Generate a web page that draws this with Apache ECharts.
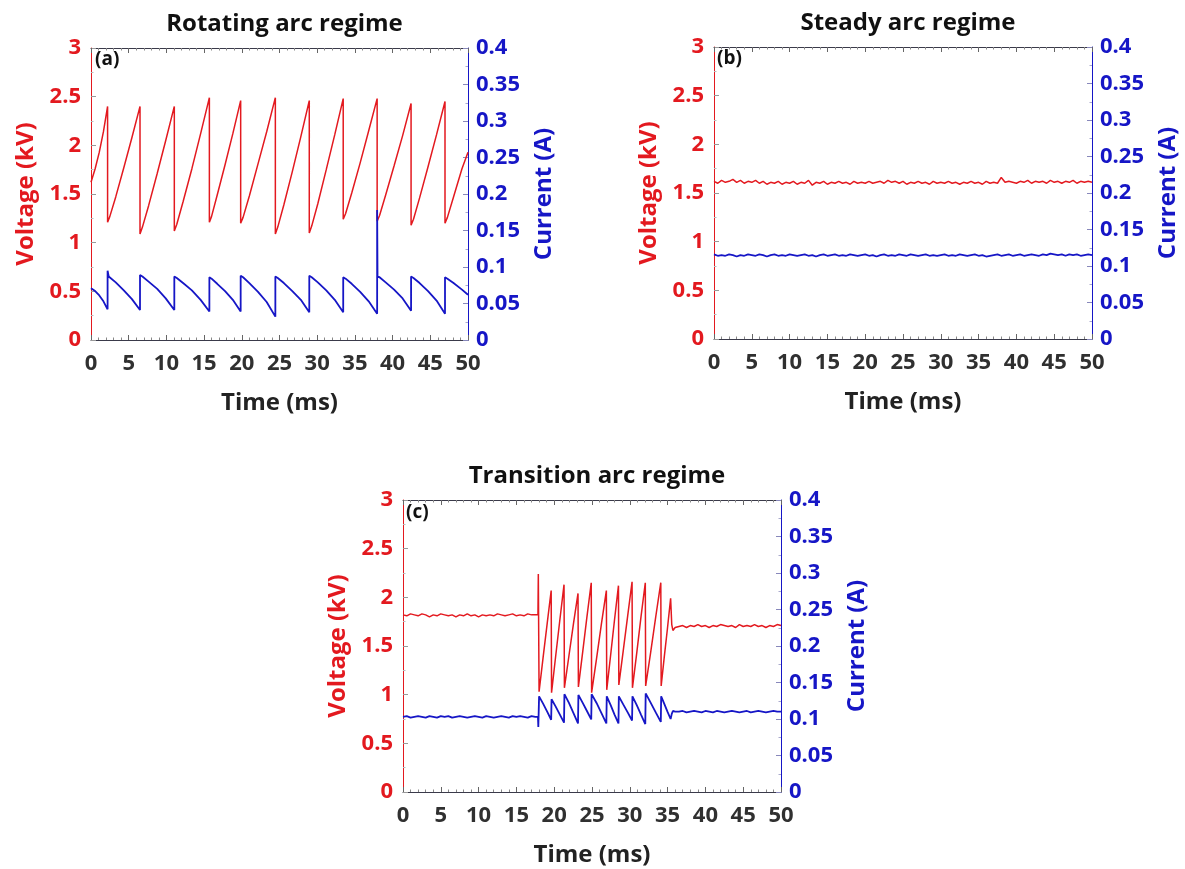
<!DOCTYPE html>
<html>
<head>
<meta charset="utf-8">
<script src="https://cdn.jsdelivr.net/npm/echarts@6/dist/echarts.min.js"></script>
<style>
  html, body { margin: 0; padding: 0; background: #fff; }
  #chart { width: 1185px; height: 869px; }
</style>
</head>
<body>
<div id="chart"></div>
<script>
// ---- Panel (a): rotating arc, sawtooth voltage and current ----
const aVoltT = [0,0.55,1.1,1.65,2.2, 2.2,2.5,3.28,4.35,5.43,6.5, 6.5,6.82,7.64,8.78,9.91,11.05,
  11.05,11.38,12.21,13.38,14.54,15.7, 15.7,15.99,16.74,17.78,18.81,19.85, 19.85,20.17,21.0,22.15,23.3,24.45,
  24.45,24.77,25.58,26.7,27.83,28.95, 28.95,29.27,30.08,31.2,32.33,33.45, 33.45,33.77,34.58,35.7,36.83,37.95,
  37.95,38.27,39.08,40.2,41.33,42.45, 42.45,42.77,43.58,44.7,45.83,46.95, 46.95,47.27,48.08,49.2,50];
const aVoltV = [1.62,1.76,1.93,2.14,2.40, 1.21,1.27,1.47,1.77,2.08,2.40, 1.09,1.16,1.38,1.71,2.05,2.40,
  1.12,1.19,1.42,1.76,2.12,2.49, 1.21,1.27,1.49,1.80,2.12,2.46, 1.20,1.26,1.48,1.81,2.14,2.49,
  1.09,1.16,1.39,1.73,2.09,2.46, 1.10,1.17,1.40,1.75,2.11,2.48, 1.24,1.30,1.51,1.82,2.15,2.48,
  1.22,1.28,1.49,1.79,2.10,2.43, 1.18,1.24,1.46,1.78,2.11,2.45, 1.20,1.26,1.47,1.76,1.93];
const aCurT = [0,0.55,1.1,1.65,2.2, 2.2,2.35,3.28,4.35,5.43,6.5, 6.5,6.82,7.64,8.78,9.91,11.05,
  11.05,11.38,12.21,13.38,14.54,15.7, 15.7,15.99,16.74,17.78,18.81,19.85, 19.85,20.17,21.0,22.15,23.3,24.45,
  24.45,24.77,25.58,26.7,27.83,28.95, 28.95,29.27,30.08,31.2,32.33,33.45, 33.45,33.77,34.58,35.7,36.83,37.95,
  37.95,38.0,38.27,39.08,40.2,41.33,42.45, 42.45,42.77,43.58,44.7,45.83,46.95, 46.95,47.27,48.08,49.2,50];
const aCurI = [0.071,0.067,0.061,0.053,0.042, 0.095,0.087,0.079,0.068,0.056,0.041, 0.089,0.087,0.080,0.070,0.057,0.041,
  0.087,0.085,0.078,0.068,0.055,0.039, 0.086,0.084,0.077,0.067,0.055,0.039, 0.088,0.086,0.078,0.066,0.052,0.032,
  0.087,0.085,0.078,0.067,0.055,0.038, 0.088,0.086,0.079,0.068,0.055,0.038, 0.086,0.084,0.077,0.066,0.053,0.036,
  0.178,0.087,0.086,0.079,0.069,0.057,0.040, 0.087,0.085,0.078,0.067,0.054,0.036, 0.086,0.084,0.078,0.069,0.062];

// ---- Panel (b): steady arc, samples every 0.5 ms from 0 to 50 ms ----
const SAMPLE_MS = 0.5;
const bVolt = [1.62,1.60,1.63,1.61,1.62,1.64,1.61,1.63,1.60,1.62,
  1.61,1.63,1.60,1.62,1.59,1.61,1.60,1.62,1.59,1.61,
  1.60,1.62,1.59,1.61,1.60,1.63,1.58,1.61,1.60,1.62,
  1.59,1.61,1.60,1.62,1.60,1.61,1.59,1.62,1.60,1.61,
  1.60,1.62,1.60,1.61,1.62,1.60,1.63,1.61,1.62,1.60,
  1.62,1.59,1.61,1.60,1.62,1.60,1.61,1.59,1.62,1.60,
  1.61,1.60,1.62,1.60,1.61,1.59,1.61,1.60,1.62,1.60,
  1.61,1.59,1.62,1.60,1.61,1.60,1.66,1.61,1.62,1.61,
  1.60,1.62,1.61,1.63,1.60,1.62,1.61,1.62,1.60,1.63,
  1.61,1.62,1.60,1.62,1.61,1.63,1.60,1.62,1.61,1.62,1.61];
const bCur = [0.116,0.114,0.115,0.114,0.116,0.115,0.113,0.115,0.114,0.116,
  0.115,0.114,0.116,0.115,0.113,0.115,0.116,0.114,0.115,0.114,
  0.116,0.115,0.114,0.115,0.116,0.114,0.115,0.113,0.115,0.116,
  0.114,0.115,0.116,0.114,0.115,0.114,0.116,0.115,0.114,0.115,
  0.116,0.114,0.115,0.113,0.115,0.116,0.114,0.115,0.114,0.116,
  0.115,0.114,0.116,0.115,0.114,0.115,0.116,0.114,0.115,0.114,
  0.115,0.116,0.114,0.115,0.114,0.116,0.115,0.114,0.115,0.116,
  0.114,0.115,0.113,0.114,0.115,0.116,0.114,0.115,0.116,0.114,
  0.115,0.116,0.114,0.115,0.116,0.115,0.114,0.116,0.115,0.117,
  0.116,0.115,0.116,0.114,0.116,0.115,0.116,0.114,0.115,0.116,0.115];

// ---- Panel (c): transition arc, steady -> oscillating -> steady ----
const cPreStart = 0;     // 0 .. 17.5 ms, every 0.5 ms
const cVoltPre = [1.82,1.81,1.83,1.82,1.81,1.83,1.82,1.80,1.82,1.81,
  1.83,1.82,1.81,1.82,1.80,1.82,1.81,1.83,1.81,1.82,
  1.80,1.82,1.81,1.82,1.81,1.83,1.82,1.81,1.82,1.83,
  1.81,1.82,1.81,1.83,1.82,1.82];
const cCurPre = [0.103,0.104,0.102,0.103,0.104,0.103,0.102,0.104,0.103,0.102,
  0.104,0.103,0.104,0.102,0.103,0.104,0.103,0.102,0.103,0.104,
  0.103,0.102,0.104,0.103,0.102,0.103,0.104,0.103,0.102,0.104,
  0.103,0.104,0.103,0.102,0.104,0.103];
const cActT = [17.85,17.9, 18.0,18.53,19.07,19.6, 19.65,20.2,20.75,21.3, 21.35,21.95,22.55,23.15,
  23.2,23.77,24.33,24.9, 24.95,25.6,26.25,26.9, 26.95,27.47,27.98,28.5, 28.55,29.13,29.72,30.3,
  30.35,30.92,31.48,32.05, 32.1,32.77,33.43,34.1, 34.15,34.55,34.98,35.4, 35.55,35.7,36.0];
const cActVolt = [1.82,2.24, 1.03,1.38,1.73,2.07, 1.02,1.40,1.77,2.13, 1.07,1.40,1.73,2.04,
  1.08,1.44,1.80,2.15, 1.02,1.37,1.73,2.07, 1.05,1.41,1.77,2.12, 1.10,1.45,1.81,2.16,
  1.07,1.43,1.80,2.15, 1.09,1.44,1.80,2.15, 1.09,1.38,1.68,1.99, 1.72,1.66,1.69];
const cActCur = [0.103,0.089, 0.131,0.121,0.110,0.099, 0.127,0.117,0.106,0.095, 0.134,0.122,0.108,0.094,
  0.133,0.122,0.111,0.0995, 0.134,0.122,0.108,0.094, 0.131,0.119,0.106,0.094, 0.131,0.120,0.109,0.098,
  0.131,0.119,0.106,0.093, 0.135,0.122,0.109,0.096, 0.131,0.121,0.110,0.100, 0.107,0.111,0.110];
const cPostStart = 36.5; // 36.5 .. 50 ms, every 0.5 ms
const cVoltPost = [1.70,1.71,1.69,1.71,1.70,1.72,1.70,1.71,1.69,1.71,
  1.70,1.72,1.71,1.70,1.71,1.69,1.72,1.70,1.71,1.70,
  1.72,1.70,1.71,1.69,1.71,1.70,1.72,1.71];
const cCurPost = [0.110,0.111,0.109,0.110,0.111,0.110,0.109,0.111,0.110,0.109,
  0.111,0.110,0.109,0.110,0.111,0.110,0.109,0.110,0.111,0.109,
  0.110,0.111,0.110,0.109,0.110,0.111,0.110,0.110];

// ---- Axis ticks and labels ----
const timeTicks = { min: 0, max: 50, interval: 5 };
const voltTicks = { min: 0, max: 3, interval: 0.5 };
const curTicks  = { min: 0, max: 0.4, interval: 0.05 };
const titles = ['Rotating arc regime', 'Steady arc regime', 'Transition arc regime'];
const tags = ['(a)', '(b)', '(c)'];

// ---- helpers ----
const zip = (t, v) => t.map((x, i) => [x, v[i]]);
const sampled = (values, start) => values.map((v, i) => [start + i * SAMPLE_MS, v]);

const RED = '#e3191f';
const BLUE = '#1616c6';
const INK = '#303030';
const FONT = '"Open Sans", Lato, "DejaVu Sans", sans-serif';

const panels = [
  { box: { left: 91, top: 48, width: 377, height: 292 },
    volt: zip(aVoltT, aVoltV), cur: zip(aCurT, aCurI), tagPos: [95, 50] },
  { box: { left: 714, top: 47, width: 378, height: 292 },
    volt: sampled(bVolt, 0), cur: sampled(bCur, 0), tagPos: [717, 49] },
  { box: { left: 403, top: 500, width: 378, height: 292 },
    volt: sampled(cVoltPre, cPreStart).concat(zip(cActT, cActVolt), sampled(cVoltPost, cPostStart)),
    cur: sampled(cCurPre, cPreStart).concat(zip(cActT, cActCur), sampled(cCurPost, cPostStart)),
    tagPos: [406, 503] }
];

const grid = [], xAxis = [], yAxis = [], series = [], title = [], graphic = [];
const labelFont = { fontFamily: FONT, fontWeight: 'bold', fontSize: 22 };
const nameFont = { fontFamily: FONT, fontWeight: 'bold', fontSize: 24 };

panels.forEach((p, i) => {
  grid.push(Object.assign({ containLabel: false }, p.box));
  const cx = p.box.left + p.box.width / 2;
  title.push({
    text: titles[i], left: cx, top: p.box.top - 41, textAlign: 'center',
    textStyle: Object.assign({ color: '#111' }, nameFont)
  });
  graphic.push({
    type: 'text', left: p.tagPos[0], top: p.tagPos[1], z: 10,
    style: { text: tags[i], fill: '#111', font: 'bold 19px ' + FONT }
  });
  const frameX = {
    gridIndex: i, type: 'value', min: timeTicks.min, max: timeTicks.max, interval: timeTicks.interval,
    axisLine: { onZero: false, lineStyle: { color: '#3a3a4a', width: 1 } },
    axisTick: { inside: true, length: 5, lineStyle: { color: '#666' } },
    minorTick: { show: true, splitNumber: 5, length: 2.5, lineStyle: { color: '#888' } },
    splitLine: { show: false }
  };
  xAxis.push(Object.assign({}, frameX, {
    position: 'bottom',
    axisLabel: Object.assign({ color: INK, margin: 13 }, labelFont),
    name: 'Time (ms)', nameLocation: 'middle', nameGap: 51,
    nameTextStyle: Object.assign({ color: '#222' }, nameFont)
  }));
  xAxis.push(Object.assign({}, frameX, { position: 'top', axisLabel: { show: false } }));
  yAxis.push({
    gridIndex: i, type: 'value', position: 'left',
    min: voltTicks.min, max: voltTicks.max, interval: voltTicks.interval,
    axisLine: { show: true, onZero: false, lineStyle: { color: RED, width: 1 } },
    axisTick: { show: true, inside: true, length: 5, lineStyle: { color: '#999' } },
    minorTick: { show: true, splitNumber: 2, length: 2.5, lineStyle: { color: '#bbb' } },
    splitLine: { show: false },
    axisLabel: Object.assign({ color: RED, margin: 10 }, labelFont),
    name: 'Voltage (kV)', nameLocation: 'middle', nameGap: 53,
    nameTextStyle: Object.assign({ color: RED }, nameFont)
  });
  yAxis.push({
    gridIndex: i, type: 'value', position: 'right',
    min: curTicks.min, max: curTicks.max, interval: curTicks.interval,
    axisLine: { show: true, onZero: false, lineStyle: { color: BLUE, width: 1 } },
    axisTick: { show: true, inside: true, length: 5, lineStyle: { color: '#8888bb' } },
    minorTick: { show: true, splitNumber: 2, length: 2.5, lineStyle: { color: '#aaaacc' } },
    splitLine: { show: false },
    axisLabel: Object.assign({ color: BLUE, margin: 8,
      formatter: v => String(+v.toFixed(2)) }, labelFont),
    name: 'Current (A)', nameLocation: 'middle', nameGap: 64,
    nameTextStyle: Object.assign({ color: BLUE }, nameFont)
  });
  series.push({
    type: 'line', xAxisIndex: 2 * i, yAxisIndex: 2 * i, data: p.volt,
    showSymbol: false, lineStyle: { color: RED, width: 1.5 }, itemStyle: { color: RED }, z: 3
  });
  series.push({
    type: 'line', xAxisIndex: 2 * i, yAxisIndex: 2 * i + 1, data: p.cur,
    showSymbol: false, lineStyle: { color: BLUE, width: 1.8 }, itemStyle: { color: BLUE }, z: 4
  });
});

const chart = echarts.init(document.getElementById('chart'), null, { renderer: 'canvas' });
chart.setOption({
  animation: false,
  backgroundColor: '#fff',
  title, grid, xAxis, yAxis, series, graphic
});
</script>
</body>
</html>
